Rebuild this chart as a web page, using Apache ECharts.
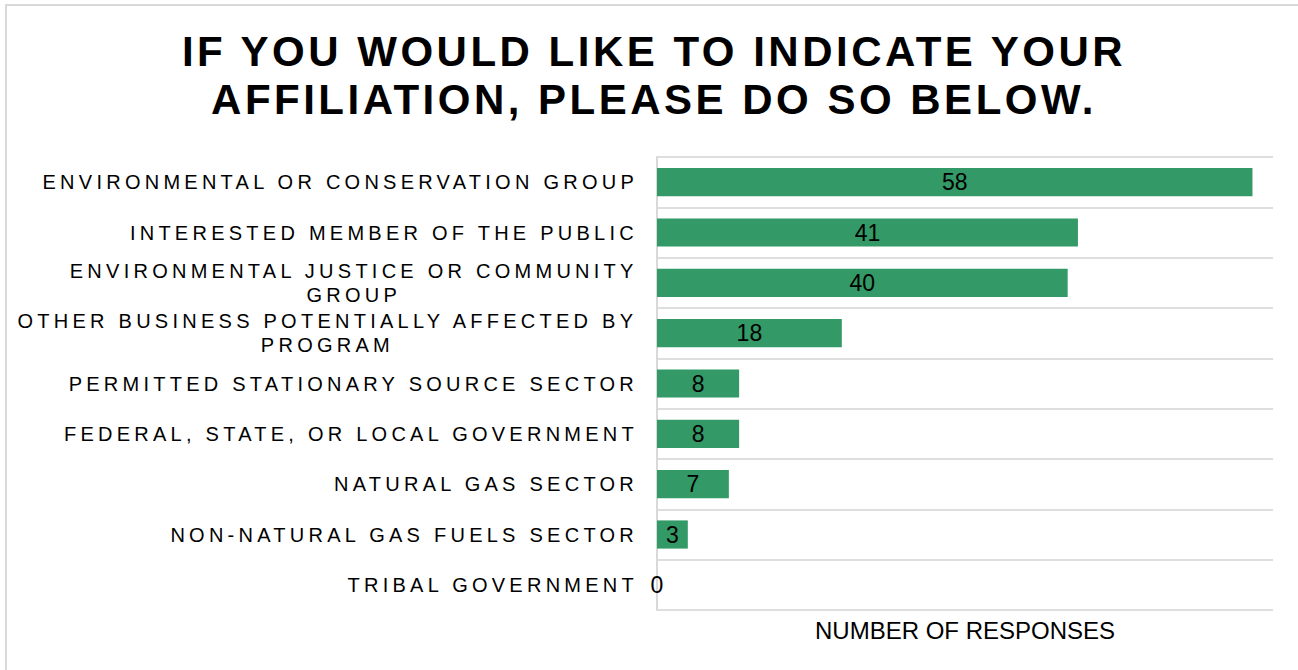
<!DOCTYPE html>
<html>
<head>
<meta charset="utf-8">
<script src="https://cdn.jsdelivr.net/npm/echarts@6/dist/echarts.min.js"></script>
<style>
  html, body { margin: 0; padding: 0; background: #ffffff; }
  #chart { width: 1298px; height: 670px; }
  /* tracking for the category labels and the title */
  #chart text[style*="20px"] { letter-spacing: 4.25px; }
  #chart text[style*="42px"] { letter-spacing: 3.5px; }
</style>
</head>
<body>
<div id="chart"></div>
<script>
const titleLines = ['IF YOU WOULD LIKE TO INDICATE YOUR', 'AFFILIATION, PLEASE DO SO BELOW.'];
const categories = [
  'ENVIRONMENTAL OR CONSERVATION GROUP',
  'INTERESTED MEMBER OF THE PUBLIC',
  'ENVIRONMENTAL JUSTICE OR COMMUNITY\nGROUP',
  'OTHER BUSINESS POTENTIALLY AFFECTED BY\nPROGRAM',
  'PERMITTED STATIONARY SOURCE SECTOR',
  'FEDERAL, STATE, OR LOCAL GOVERNMENT',
  'NATURAL GAS SECTOR',
  'NON-NATURAL GAS FUELS SECTOR',
  'TRIBAL GOVERNMENT'
];
const responses = [58, 41, 40, 18, 8, 8, 7, 3, 0];
const axisTitle = 'NUMBER OF RESPONSES';

const LABEL_FONT = '"Liberation Sans", Arial, sans-serif';
const LABEL_SIZE = 20;
const LABEL_TRACKING = 4.25;

// width of a tracked line, so wrapped labels can centre their lines
const measureCtx = document.createElement('canvas').getContext('2d');
measureCtx.font = LABEL_SIZE + 'px ' + LABEL_FONT;
function trackedWidth(line) {
  return measureCtx.measureText(line).width + line.length * LABEL_TRACKING;
}

const richStyles = {};
categories.forEach(function (cat, i) {
  const lines = cat.split('\n');
  if (lines.length > 1) {
    richStyles['w' + i] = {
      width: Math.max.apply(null, lines.map(trackedWidth)),
      align: 'center',
      fontSize: LABEL_SIZE,
      fontFamily: LABEL_FONT,
      color: '#000000',
      lineHeight: 24
    };
  }
});

const chart = echarts.init(document.getElementById('chart'), null, { renderer: 'svg' });

chart.setOption({
  backgroundColor: '#ffffff',
  animation: false,
  graphic: [{
    type: 'rect',
    shape: { x: 6, y: 5, width: 1400, height: 800 },
    style: { fill: 'none', stroke: '#d9d9d9', lineWidth: 2 },
    silent: true
  }],
  title: {
    text: titleLines.join('\n'),
    left: 649,
    top: 22,
    textAlign: 'center',
    textStyle: {
      fontFamily: LABEL_FONT,
      fontSize: 42,
      fontWeight: 'bold',
      color: '#000000',
      lineHeight: 48
    }
  },
  grid: { left: 657, right: 25, top: 157, bottom: 60 },
  xAxis: {
    type: 'value',
    min: 0,
    max: 60,
    name: axisTitle,
    nameLocation: 'middle',
    nameGap: 8,
    nameTextStyle: { fontFamily: LABEL_FONT, fontSize: 24, color: '#000000' },
    axisLine: { show: false },
    axisTick: { show: false },
    axisLabel: { show: false },
    splitLine: { show: false }
  },
  yAxis: {
    type: 'category',
    inverse: true,
    data: categories,
    axisLine: { show: true, lineStyle: { color: '#d9d9d9', width: 2 } },
    axisTick: { show: false },
    splitLine: { show: true, lineStyle: { color: '#dedede', width: 2 } },
    axisLabel: {
      margin: 19,
      fontFamily: LABEL_FONT,
      fontSize: LABEL_SIZE,
      color: '#000000',
      lineHeight: 24,
      rich: richStyles,
      formatter: function (value, index) {
        const lines = value.split('\n');
        if (lines.length === 1) return value;
        return lines.map(function (l) { return '{w' + index + '|' + l + '}'; }).join('\n');
      }
    }
  },
  series: [{
    type: 'bar',
    data: responses,
    barCategoryGap: '44%',
    itemStyle: { color: '#339966' },
    label: {
      show: true,
      position: 'inside',
      fontFamily: LABEL_FONT,
      fontSize: 23,
      color: '#000000'
    }
  }]
});
</script>
</body>
</html>
